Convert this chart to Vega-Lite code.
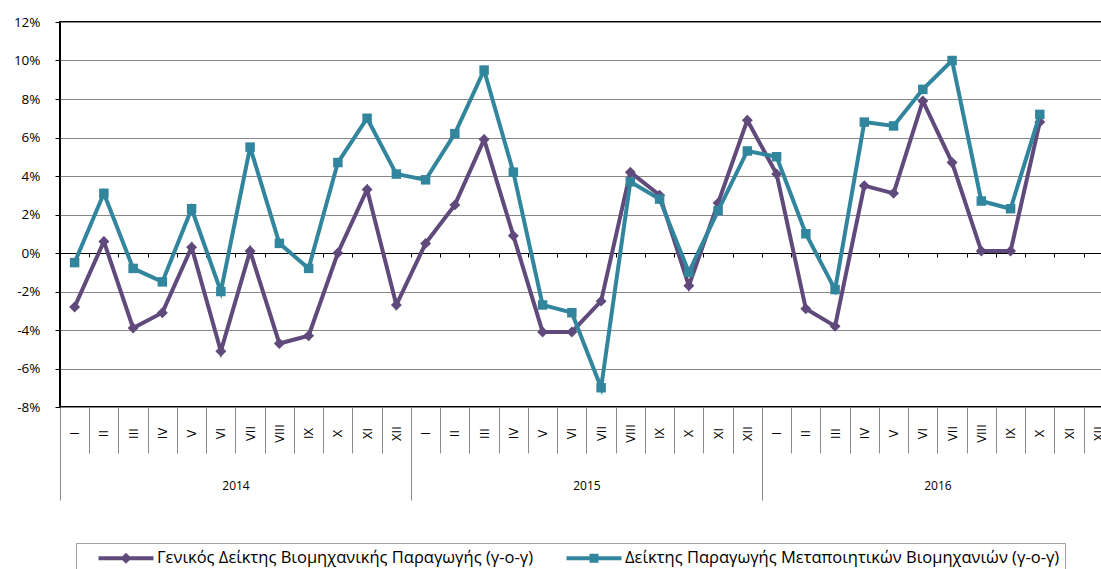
{
 "$schema": "https://vega.github.io/schema/vega-lite/v6.json",
 "width": 1043,
 "height": 385,
 "autosize": {"type": "none"},
 "padding": {"left": 60, "top": 22, "right": 0, "bottom": 162},
 "background": "white",
 "config": {
  "font": "Open Sans",
  "view": {"stroke": "black", "strokeWidth": 2},
  "axisX": {"grid": false, "domain": false, "title": null, "labelFlush": false, "labelOverlap": false, "labelBound": false},
  "axisY": {"grid": true, "gridColor": "#878787", "gridWidth": 1, "domain": false, "tickSize": 5, "tickColor": "black", "labelPadding": 15, "labelFontSize": 13.5, "labelColor": "black", "title": null, "labelFlush": false}
 },
 "datasets": {
  "d": [
   {"i": 0, "s": "Γενικός Δείκτης Βιομηχανικής Παραγωγής (γ-ο-γ)", "v": -2.8},
   {"i": 1, "s": "Γενικός Δείκτης Βιομηχανικής Παραγωγής (γ-ο-γ)", "v": 0.6},
   {"i": 2, "s": "Γενικός Δείκτης Βιομηχανικής Παραγωγής (γ-ο-γ)", "v": -3.9},
   {"i": 3, "s": "Γενικός Δείκτης Βιομηχανικής Παραγωγής (γ-ο-γ)", "v": -3.1},
   {"i": 4, "s": "Γενικός Δείκτης Βιομηχανικής Παραγωγής (γ-ο-γ)", "v": 0.3},
   {"i": 5, "s": "Γενικός Δείκτης Βιομηχανικής Παραγωγής (γ-ο-γ)", "v": -5.1},
   {"i": 6, "s": "Γενικός Δείκτης Βιομηχανικής Παραγωγής (γ-ο-γ)", "v": 0.1},
   {"i": 7, "s": "Γενικός Δείκτης Βιομηχανικής Παραγωγής (γ-ο-γ)", "v": -4.7},
   {"i": 8, "s": "Γενικός Δείκτης Βιομηχανικής Παραγωγής (γ-ο-γ)", "v": -4.3},
   {"i": 9, "s": "Γενικός Δείκτης Βιομηχανικής Παραγωγής (γ-ο-γ)", "v": 0.0},
   {"i": 10, "s": "Γενικός Δείκτης Βιομηχανικής Παραγωγής (γ-ο-γ)", "v": 3.3},
   {"i": 11, "s": "Γενικός Δείκτης Βιομηχανικής Παραγωγής (γ-ο-γ)", "v": -2.7},
   {"i": 12, "s": "Γενικός Δείκτης Βιομηχανικής Παραγωγής (γ-ο-γ)", "v": 0.5},
   {"i": 13, "s": "Γενικός Δείκτης Βιομηχανικής Παραγωγής (γ-ο-γ)", "v": 2.5},
   {"i": 14, "s": "Γενικός Δείκτης Βιομηχανικής Παραγωγής (γ-ο-γ)", "v": 5.9},
   {"i": 15, "s": "Γενικός Δείκτης Βιομηχανικής Παραγωγής (γ-ο-γ)", "v": 0.9},
   {"i": 16, "s": "Γενικός Δείκτης Βιομηχανικής Παραγωγής (γ-ο-γ)", "v": -4.1},
   {"i": 17, "s": "Γενικός Δείκτης Βιομηχανικής Παραγωγής (γ-ο-γ)", "v": -4.1},
   {"i": 18, "s": "Γενικός Δείκτης Βιομηχανικής Παραγωγής (γ-ο-γ)", "v": -2.5},
   {"i": 19, "s": "Γενικός Δείκτης Βιομηχανικής Παραγωγής (γ-ο-γ)", "v": 4.2},
   {"i": 20, "s": "Γενικός Δείκτης Βιομηχανικής Παραγωγής (γ-ο-γ)", "v": 3.0},
   {"i": 21, "s": "Γενικός Δείκτης Βιομηχανικής Παραγωγής (γ-ο-γ)", "v": -1.7},
   {"i": 22, "s": "Γενικός Δείκτης Βιομηχανικής Παραγωγής (γ-ο-γ)", "v": 2.6},
   {"i": 23, "s": "Γενικός Δείκτης Βιομηχανικής Παραγωγής (γ-ο-γ)", "v": 6.9},
   {"i": 24, "s": "Γενικός Δείκτης Βιομηχανικής Παραγωγής (γ-ο-γ)", "v": 4.1},
   {"i": 25, "s": "Γενικός Δείκτης Βιομηχανικής Παραγωγής (γ-ο-γ)", "v": -2.9},
   {"i": 26, "s": "Γενικός Δείκτης Βιομηχανικής Παραγωγής (γ-ο-γ)", "v": -3.8},
   {"i": 27, "s": "Γενικός Δείκτης Βιομηχανικής Παραγωγής (γ-ο-γ)", "v": 3.5},
   {"i": 28, "s": "Γενικός Δείκτης Βιομηχανικής Παραγωγής (γ-ο-γ)", "v": 3.1},
   {"i": 29, "s": "Γενικός Δείκτης Βιομηχανικής Παραγωγής (γ-ο-γ)", "v": 7.9},
   {"i": 30, "s": "Γενικός Δείκτης Βιομηχανικής Παραγωγής (γ-ο-γ)", "v": 4.7},
   {"i": 31, "s": "Γενικός Δείκτης Βιομηχανικής Παραγωγής (γ-ο-γ)", "v": 0.1},
   {"i": 32, "s": "Γενικός Δείκτης Βιομηχανικής Παραγωγής (γ-ο-γ)", "v": 0.1},
   {"i": 33, "s": "Γενικός Δείκτης Βιομηχανικής Παραγωγής (γ-ο-γ)", "v": 6.8},
   {"i": 0, "s": "Δείκτης Παραγωγής Μεταποιητικών Βιομηχανιών (γ-ο-γ)", "v": -0.5},
   {"i": 1, "s": "Δείκτης Παραγωγής Μεταποιητικών Βιομηχανιών (γ-ο-γ)", "v": 3.1},
   {"i": 2, "s": "Δείκτης Παραγωγής Μεταποιητικών Βιομηχανιών (γ-ο-γ)", "v": -0.8},
   {"i": 3, "s": "Δείκτης Παραγωγής Μεταποιητικών Βιομηχανιών (γ-ο-γ)", "v": -1.5},
   {"i": 4, "s": "Δείκτης Παραγωγής Μεταποιητικών Βιομηχανιών (γ-ο-γ)", "v": 2.3},
   {"i": 5, "s": "Δείκτης Παραγωγής Μεταποιητικών Βιομηχανιών (γ-ο-γ)", "v": -2.0},
   {"i": 6, "s": "Δείκτης Παραγωγής Μεταποιητικών Βιομηχανιών (γ-ο-γ)", "v": 5.5},
   {"i": 7, "s": "Δείκτης Παραγωγής Μεταποιητικών Βιομηχανιών (γ-ο-γ)", "v": 0.5},
   {"i": 8, "s": "Δείκτης Παραγωγής Μεταποιητικών Βιομηχανιών (γ-ο-γ)", "v": -0.8},
   {"i": 9, "s": "Δείκτης Παραγωγής Μεταποιητικών Βιομηχανιών (γ-ο-γ)", "v": 4.7},
   {"i": 10, "s": "Δείκτης Παραγωγής Μεταποιητικών Βιομηχανιών (γ-ο-γ)", "v": 7.0},
   {"i": 11, "s": "Δείκτης Παραγωγής Μεταποιητικών Βιομηχανιών (γ-ο-γ)", "v": 4.1},
   {"i": 12, "s": "Δείκτης Παραγωγής Μεταποιητικών Βιομηχανιών (γ-ο-γ)", "v": 3.8},
   {"i": 13, "s": "Δείκτης Παραγωγής Μεταποιητικών Βιομηχανιών (γ-ο-γ)", "v": 6.2},
   {"i": 14, "s": "Δείκτης Παραγωγής Μεταποιητικών Βιομηχανιών (γ-ο-γ)", "v": 9.5},
   {"i": 15, "s": "Δείκτης Παραγωγής Μεταποιητικών Βιομηχανιών (γ-ο-γ)", "v": 4.2},
   {"i": 16, "s": "Δείκτης Παραγωγής Μεταποιητικών Βιομηχανιών (γ-ο-γ)", "v": -2.7},
   {"i": 17, "s": "Δείκτης Παραγωγής Μεταποιητικών Βιομηχανιών (γ-ο-γ)", "v": -3.1},
   {"i": 18, "s": "Δείκτης Παραγωγής Μεταποιητικών Βιομηχανιών (γ-ο-γ)", "v": -7.0},
   {"i": 19, "s": "Δείκτης Παραγωγής Μεταποιητικών Βιομηχανιών (γ-ο-γ)", "v": 3.7},
   {"i": 20, "s": "Δείκτης Παραγωγής Μεταποιητικών Βιομηχανιών (γ-ο-γ)", "v": 2.8},
   {"i": 21, "s": "Δείκτης Παραγωγής Μεταποιητικών Βιομηχανιών (γ-ο-γ)", "v": -1.0},
   {"i": 22, "s": "Δείκτης Παραγωγής Μεταποιητικών Βιομηχανιών (γ-ο-γ)", "v": 2.2},
   {"i": 23, "s": "Δείκτης Παραγωγής Μεταποιητικών Βιομηχανιών (γ-ο-γ)", "v": 5.3},
   {"i": 24, "s": "Δείκτης Παραγωγής Μεταποιητικών Βιομηχανιών (γ-ο-γ)", "v": 5.0},
   {"i": 25, "s": "Δείκτης Παραγωγής Μεταποιητικών Βιομηχανιών (γ-ο-γ)", "v": 1.0},
   {"i": 26, "s": "Δείκτης Παραγωγής Μεταποιητικών Βιομηχανιών (γ-ο-γ)", "v": -1.9},
   {"i": 27, "s": "Δείκτης Παραγωγής Μεταποιητικών Βιομηχανιών (γ-ο-γ)", "v": 6.8},
   {"i": 28, "s": "Δείκτης Παραγωγής Μεταποιητικών Βιομηχανιών (γ-ο-γ)", "v": 6.6},
   {"i": 29, "s": "Δείκτης Παραγωγής Μεταποιητικών Βιομηχανιών (γ-ο-γ)", "v": 8.5},
   {"i": 30, "s": "Δείκτης Παραγωγής Μεταποιητικών Βιομηχανιών (γ-ο-γ)", "v": 10.0},
   {"i": 31, "s": "Δείκτης Παραγωγής Μεταποιητικών Βιομηχανιών (γ-ο-γ)", "v": 2.7},
   {"i": 32, "s": "Δείκτης Παραγωγής Μεταποιητικών Βιομηχανιών (γ-ο-γ)", "v": 2.3},
   {"i": 33, "s": "Δείκτης Παραγωγής Μεταποιητικών Βιομηχανιών (γ-ο-γ)", "v": 7.2}
  ]
 },
 "data": {"name": "d"},
 "layer": [
  {
   "transform": [{"filter": "indexof(datum.s, 'Γενικός') === 0"}],
   "mark": {"type": "line", "strokeWidth": 4, "point": {"shape": "diamond", "size": 120, "filled": true, "opacity": 1}},
   "encoding": {
    "x": {"field": "i", "type": "quantitative", "scale": {"domain": [-0.5, 35.16], "nice": false, "zero": false},
     "axis": {"orient": "bottom", "values": [0,1,2,3,4,5,6,7,8,9,10,11,12,13,14,15,16,17,18,19,20,21,22,23,24,25,26,27,28,29,30,31,32,33,34,35],
      "labelExpr": "['I','II','III','IV','V','VI','VII','VIII','IX','X','XI','XII'][datum.value % 12]",
      "labelAngle": 270, "labelAlign": "center", "labelBaseline": "middle", "labelPadding": 26, "ticks": false, "tickSize": 0, "labelFontSize": 13, "labelColor": "black"}},
    "y": {"field": "v", "type": "quantitative", "scale": {"domain": [-8, 12], "nice": false, "zero": false},
     "axis": {"values": [-8,-6,-4,-2,0,2,4,6,8,10,12], "labelExpr": "datum.value + '%'"}},
    "color": {"field": "s", "type": "nominal",
     "scale": {"domain": ["Γενικός Δείκτης Βιομηχανικής Παραγωγής (γ-ο-γ)", "Δείκτης Παραγωγής Μεταποιητικών Βιομηχανιών (γ-ο-γ)"], "range": ["#604A7B", "#31859C"]},
     "legend": {"title": null, "orient": "none", "legendX": 16, "legendY": 521, "direction": "horizontal", "padding": 5,
      "strokeColor": "#A0A0A0", "fillColor": "white", "symbolSize": 400, "symbolOffset": 35, "labelOffset": 21, "columnPadding": 15,
      "labelFontSize": 16.5, "labelColor": "black", "labelLimit": 1000,
      "encode": {"symbols": {"update": {
       "shape": {"signal": "datum.index === 0 ? 'M-2.75,-0.2H2.75V0.2H-2.75Z M0,-0.55L0.55,0L0,0.55L-0.55,0Z' : 'M-2.75,-0.2H2.75V0.2H-2.75Z M-0.45,-0.45H0.45V0.45H-0.45Z'"},
       "fill": {"signal": "datum.index === 0 ? '#604A7B' : '#31859C'"},
       "strokeWidth": {"value": 0}, "opacity": {"value": 1}}}}}}
   }
  },
  {
   "transform": [{"filter": "indexof(datum.s, 'Γενικός') !== 0"}],
   "mark": {"type": "line", "strokeWidth": 4, "point": {"shape": "square", "size": 90, "filled": true, "opacity": 1}},
   "encoding": {
    "x": {"field": "i", "type": "quantitative", "scale": {"domain": [-0.5, 35.16], "nice": false, "zero": false},
     "axis": {"orient": "bottom", "values": [0.5,1.5,2.5,3.5,4.5,5.5,6.5,7.5,8.5,9.5,10.5,11.5,12.5,13.5,14.5,15.5,16.5,17.5,18.5,19.5,20.5,21.5,22.5,23.5,24.5,25.5,26.5,27.5,28.5,29.5,30.5,31.5,32.5,33.5,34.5],
      "labels": false, "ticks": true, "tickSize": 46, "tickColor": "#888888", "tickWidth": 1}},
    "y": {"field": "v", "type": "quantitative", "scale": {"domain": [-8, 12], "nice": false, "zero": false},
     "axis": {"values": [-8,-6,-4,-2,0,2,4,6,8,10,12], "labelExpr": "datum.value + '%'"}},
    "color": {"field": "s", "type": "nominal",
     "scale": {"domain": ["Γενικός Δείκτης Βιομηχανικής Παραγωγής (γ-ο-γ)", "Δείκτης Παραγωγής Μεταποιητικών Βιομηχανιών (γ-ο-γ)"], "range": ["#604A7B", "#31859C"]},
     "legend": {"title": null, "orient": "none", "legendX": 16, "legendY": 521, "direction": "horizontal", "padding": 5,
      "strokeColor": "#A0A0A0", "fillColor": "white", "symbolSize": 400, "symbolOffset": 35, "labelOffset": 21, "columnPadding": 15,
      "labelFontSize": 16.5, "labelColor": "black", "labelLimit": 1000,
      "encode": {"symbols": {"update": {
       "shape": {"signal": "datum.index === 0 ? 'M-2.75,-0.2H2.75V0.2H-2.75Z M0,-0.55L0.55,0L0,0.55L-0.55,0Z' : 'M-2.75,-0.2H2.75V0.2H-2.75Z M-0.45,-0.45H0.45V0.45H-0.45Z'"},
       "fill": {"signal": "datum.index === 0 ? '#604A7B' : '#31859C'"},
       "strokeWidth": {"value": 0}, "opacity": {"value": 1}}}}}}
   }
  },
  {
   "mark": {"type": "point", "opacity": 0},
   "encoding": {
    "x": {"field": "i", "type": "quantitative", "scale": {"domain": [-0.5, 35.16], "nice": false, "zero": false},
     "axis": {"orient": "bottom", "values": [-0.5, 11.5, 23.5], "labels": false, "ticks": true, "tickSize": 93, "tickColor": "#888888", "tickWidth": 1}}
   }
  },
  {
   "mark": {"type": "point", "opacity": 0},
   "encoding": {
    "x": {"field": "i", "type": "quantitative", "scale": {"domain": [-0.5, 35.16], "nice": false, "zero": false},
     "axis": {"orient": "bottom", "values": [5.5, 17.5, 29.5], "labelExpr": "datum.value < 12 ? '2014' : datum.value < 24 ? '2015' : '2016'",
      "ticks": false, "tickSize": 0, "labelPadding": 78, "labelBaseline": "middle", "labelAlign": "center", "labelFontSize": 12, "labelColor": "black"}}
   }
  },
  {
   "mark": {"type": "point", "opacity": 0},
   "encoding": {
    "x": {"field": "i", "type": "quantitative", "scale": {"domain": [-0.5, 35.16], "nice": false, "zero": false},
     "axis": {"orient": "bottom", "values": [0.5,1.5,2.5,3.5,4.5,5.5,6.5,7.5,8.5,9.5,10.5,11.5,12.5,13.5,14.5,15.5,16.5,17.5,18.5,19.5,20.5,21.5,22.5,23.5,24.5,25.5,26.5,27.5,28.5,29.5,30.5,31.5,32.5,33.5,34.5],
      "offset": -154, "domain": true, "domainColor": "black", "domainWidth": 1, "labels": false, "ticks": true, "tickSize": 4, "tickColor": "black", "tickWidth": 1}}
   }
  }
 ],
 "resolve": {"axis": {"x": "independent"}}
}
